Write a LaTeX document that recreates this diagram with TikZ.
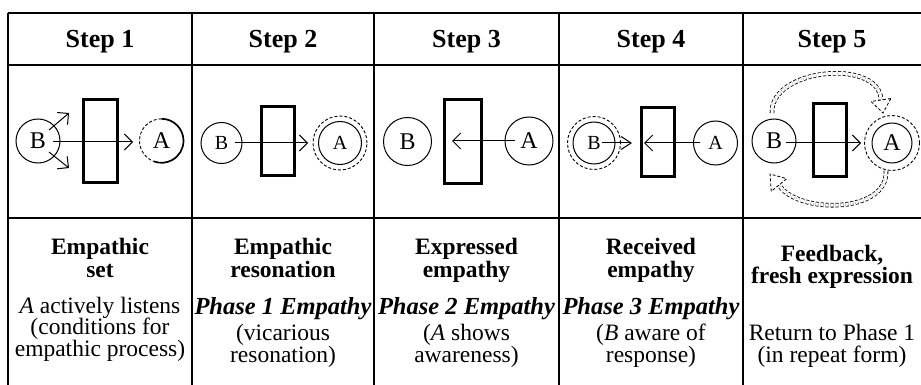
\documentclass[tikz,border=0pt]{standalone}
\usepackage{fontspec}
\setmainfont{Liberation Serif}
\usetikzlibrary{arrows.meta,calc}
\begin{document}
\begin{tikzpicture}[x=1pt,y=-1pt,
  grid/.style={line width=1.2pt},
  hdr/.style={anchor=base,inner sep=0pt,font=\fontsize{26}{26}\selectfont\bfseries},
  ttl/.style={anchor=base,inner sep=0pt,font=\fontsize{23.5}{23.5}\selectfont\bfseries},
  phs/.style={anchor=base,inner sep=0pt,font=\fontsize{24.5}{24.5}\selectfont\bfseries\itshape},
  bdy/.style={anchor=base,inner sep=0pt,font=\fontsize{23.5}{23.5}\selectfont},
  pers/.style={circle,draw,line width=1pt,inner sep=0pt,font=\fontsize{24}{24}\selectfont},
  small/.style={font=\fontsize{20}{20}\selectfont},
  bare/.style={circle,inner sep=0pt,font=\fontsize{24}{24}\selectfont},
  halo/.style={circle,draw,dashed,dash pattern=on 3pt off 2pt,line width=0.9pt,inner sep=0pt},
  wall/.style={draw,line width=3pt,inner sep=0pt},
  ray/.style={line width=1pt,-{Straight Barb[length=8pt,width=16pt]}},
  fb/.style={draw,dashed,dash pattern=on 3pt off 2pt,line width=0.8pt,double,double distance=3pt},
  fbhead/.style={draw,dashed,dash pattern=on 3pt off 2pt,line width=0.8pt,fill=white},
]
\useasboundingbox (0,0) rectangle (921,385);
% table
\draw[grid] (8,13) -- (921,13);
\draw[grid] (8,65) -- (921,65);
\draw[grid] (8,218) -- (921,218);
\foreach \xx in {8,192,374,559,743} \draw[grid] (\xx,13) -- (\xx,385);
% headers
\node[hdr] (h1) at (100,48) {Step 1};
\node[hdr] (h2) at (283,48) {Step 2};
\node[hdr] (h3) at (466.5,48) {Step 3};
\node[hdr] (h4) at (651,48) {Step 4};
\node[hdr] (h5) at (832,48) {Step 5};
% ---- Step 1
\node[pers,minimum size=44pt] (b1) at (38,141) {B};
\node[wall,minimum width=34pt,minimum height=83pt] (r1) at (100.5,141) {};
\node[bare,minimum size=44pt] (a1) at (161.5,141) {A};
\draw[dashed,dash pattern=on 3pt off 2pt,line width=0.9pt] (a1.90) arc[start angle=90,end angle=250,radius=22pt];
\draw[line width=1.7pt] (a1.90) arc[start angle=90,end angle=-110,radius=22pt];
\coordinate (s1) at (53,142);
\coordinate (t1) at (133,142);
\draw[ray] (s1) -- (t1);
\coordinate (d1s) at (49,130);
\coordinate (d1e) at (69,113);
\coordinate (d2s) at (49,152);
\coordinate (d2e) at (69,168);
\draw[ray] (d1s) -- (d1e);
\draw[ray] (d2s) -- (d2e);
% ---- Step 2
\node[pers,small,minimum size=41pt] (b2) at (221.5,143) {B};
\node[wall,minimum width=33pt,minimum height=69pt] (r2) at (278,141) {};
\node[pers,small,minimum size=43pt] (a2) at (340,143) {A};
\node[halo,minimum size=54pt] (o2) at (340,143) {};
\coordinate (s2) at (235,143);
\coordinate (t2) at (308,143);
\draw[ray] (s2) -- (t2);
% ---- Step 3
\node[pers,minimum size=48pt] (b3) at (407.5,141.5) {B};
\node[wall,minimum width=37pt,minimum height=84pt] (r3) at (463,141.5) {};
\node[pers,minimum size=48pt] (a3) at (529,141) {A};
\coordinate (s3) at (515,141);
\coordinate (t3) at (452,141);
\draw[ray] (s3) -- (t3);
% ---- Step 4
\node[pers,small,minimum size=42pt] (b4) at (594,143) {B};
\node[halo,minimum size=53pt] (o4) at (594,143) {};
\node[wall,minimum width=33pt,minimum height=69pt] (r4) at (658,142) {};
\node[pers,small,minimum size=44pt] (a4) at (715.5,143) {A};
\coordinate (s4) at (602,143);
\coordinate (t4) at (632,143);
\draw[line width=1pt,-{Straight Barb[length=10pt,width=13pt]}] (s4) -- (t4);
\coordinate (s4b) at (700,143);
\coordinate (t4b) at (644,143);
\draw[ray] (s4b) -- (t4b);
% ---- Step 5
\node[pers,minimum size=44pt] (b5) at (774,141) {B};
\node[wall,minimum width=33pt,minimum height=72pt] (r5) at (830,140) {};
\node[pers,minimum size=40pt] (a5) at (892,143) {A};
\node[halo,minimum size=55pt] (o5) at (892,143) {};
\coordinate (s5) at (786,143);
\coordinate (t5) at (861,143);
\draw[ray] (s5) -- (t5);
% feedback arcs
\coordinate (fa1) at (772,113);
\coordinate (fe1) at (881,100);
\coordinate (ft1) at (883,113);
\draw[fb] (fa1) .. controls (770,68) and (880,58) .. (fe1);
\draw[fbhead] ($(fe1)!10pt!90:(ft1)$) -- (ft1) -- ($(fe1)!10pt!-90:(ft1)$) -- cycle;
\coordinate (fa2) at (886,171);
\coordinate (fe2) at (779,185);
\coordinate (ft2) at (770,174);
\draw[fb] (fa2) .. controls (888,214) and (797,214) .. (fe2);
\draw[fbhead] ($(fe2)!10pt!90:(ft2)$) -- (ft2) -- ($(fe2)!10pt!-90:(ft2)$) -- cycle;
% ---- bottom texts
\node[ttl] (c1a) at (100,254) {Empathic};
\node[ttl] (c1b) at (100,277) {set};
\node[bdy] (c1c) at (100,313) {\textit{A} actively listens};
\node[bdy] (c1d) at (100,334.5) {(conditions for};
\node[bdy] (c1e) at (100,356) {empathic process)};
\node[ttl] (c2a) at (283,254) {Empathic};
\node[ttl] (c2b) at (283,277) {resonation};
\node[phs] (c2c) at (283,314) {Phase 1 Empathy};
\node[bdy] (c2d) at (283,340.5) {(vicarious};
\node[bdy] (c2e) at (283,362) {resonation)};
\node[ttl] (c3a) at (466.5,254) {Expressed};
\node[ttl] (c3b) at (466.5,277) {empathy};
\node[phs] (c3c) at (466.5,314) {Phase 2 Empathy};
\node[bdy] (c3d) at (466.5,340.5) {(\textit{A} shows};
\node[bdy] (c3e) at (466.5,362) {awareness)};
\node[ttl] (c4a) at (651,254) {Received};
\node[ttl] (c4b) at (651,277) {empathy};
\node[phs] (c4c) at (651,314) {Phase 3 Empathy};
\node[bdy] (c4d) at (651,340.5) {(\textit{B} aware of};
\node[bdy] (c4e) at (651,362) {response)};
\node[ttl] (c5a) at (832,261) {Feedback,};
\node[ttl] (c5b) at (832,283) {fresh expression};
\node[bdy] (c5d) at (832,340.5) {Return to Phase 1};
\node[bdy] (c5e) at (832,362) {(in repeat form)};
\end{tikzpicture}
\end{document}
